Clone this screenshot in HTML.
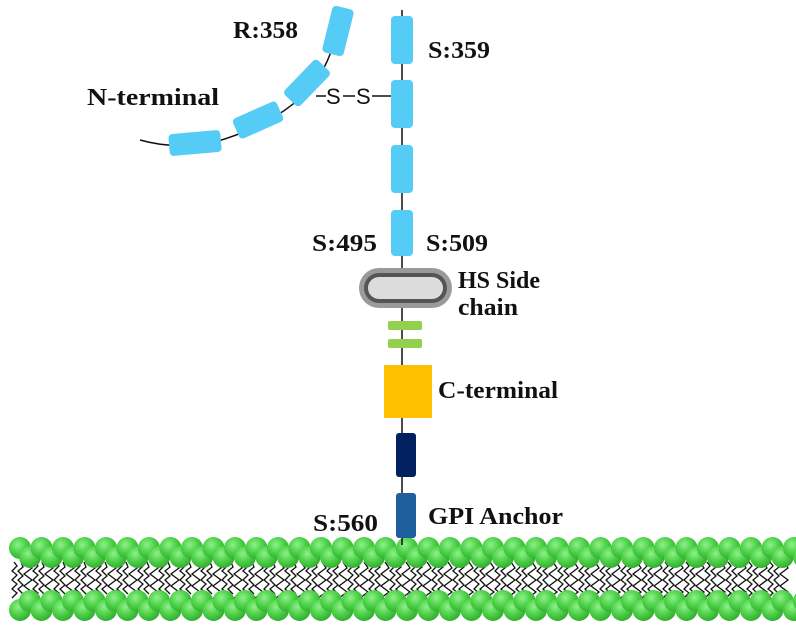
<!DOCTYPE html>
<html><head><meta charset="utf-8"><style>
html,body{margin:0;padding:0;background:#fff;}
svg{display:block;}
text{font-family:"Liberation Serif",serif;font-weight:bold;font-size:24px;fill:#111;}
</style></head><body>
<svg id="s" width="796" height="632" viewBox="0 0 796 632" xmlns="http://www.w3.org/2000/svg">
<defs>
<radialGradient id="g" cx="0.4" cy="0.35" r="0.7">
<stop offset="0" stop-color="#8ff08a"/><stop offset="0.5" stop-color="#4fd24a"/><stop offset="1" stop-color="#2fa82c"/>
</radialGradient>
</defs>
<g id="tails" stroke="#111" stroke-width="1.3" fill="none"></g>
<g id="heads"></g>
<line x1="402" y1="10" x2="402" y2="545" stroke="#111" stroke-width="1.5"/>
<path d="M140,140 Q175,150 215,142 Q290,120 320,75 Q335,50 342,10" stroke="#111" stroke-width="1.5" fill="none"/>
<g fill="#55ccf5">
<rect x="391" y="16" width="22" height="48" rx="4"/>
<rect x="391" y="80" width="22" height="48" rx="4"/>
<rect x="391" y="145" width="22" height="48" rx="4"/>
<rect x="391" y="210" width="22" height="46" rx="4"/>
<rect x="-11" y="-24" width="22" height="48" rx="4" transform="translate(338,31) rotate(14)"/>
<rect x="-11" y="-24" width="22" height="48" rx="4" transform="translate(307,83) rotate(44)"/>
<rect x="-11" y="-24" width="22" height="48" rx="4" transform="translate(258,120) rotate(66)"/>
<rect x="-11" y="-26" width="22" height="52" rx="4" transform="translate(195,143) rotate(85)"/>
</g>
<line x1="316" y1="96" x2="326" y2="96" stroke="#111" stroke-width="1.5"/>
<line x1="343" y1="96" x2="355" y2="96" stroke="#111" stroke-width="1.5"/>
<line x1="372" y1="96" x2="391" y2="96" stroke="#111" stroke-width="1.5"/>
<text x="326" y="104" style="font-family:'Liberation Sans',sans-serif;font-weight:normal;font-size:22px">S</text>
<text x="356" y="104" style="font-family:'Liberation Sans',sans-serif;font-weight:normal;font-size:22px">S</text>
<rect x="359" y="268" width="93" height="40" rx="20" fill="#9a9a9a"/>
<rect x="364" y="273" width="83" height="30" rx="15" fill="#555"/>
<rect x="368" y="277" width="75" height="22" rx="11" fill="#dcdcdc"/>
<rect x="388" y="321" width="34" height="9" rx="2" fill="#92d050"/>
<rect x="388" y="339" width="34" height="9" rx="2" fill="#92d050"/>
<rect x="384" y="365" width="48" height="53" fill="#ffc000"/>
<rect x="396" y="433" width="20" height="44" rx="3" fill="#002060"/>
<rect x="396" y="493" width="20" height="45" rx="3" fill="#1f5f9f"/>
<text x="233" y="38" textLength="65" lengthAdjust="spacingAndGlyphs">R:358</text>
<text x="428" y="58" textLength="62" lengthAdjust="spacingAndGlyphs">S:359</text>
<text x="87" y="105" textLength="132" lengthAdjust="spacingAndGlyphs">N-terminal</text>
<text x="312" y="251" textLength="65" lengthAdjust="spacingAndGlyphs">S:495</text>
<text x="426" y="251" textLength="62" lengthAdjust="spacingAndGlyphs">S:509</text>
<text x="458" y="288" textLength="82" lengthAdjust="spacingAndGlyphs">HS Side</text>
<text x="458" y="315" textLength="60" lengthAdjust="spacingAndGlyphs">chain</text>
<text x="438" y="398" textLength="120" lengthAdjust="spacingAndGlyphs">C-terminal</text>
<text x="313" y="531" textLength="65" lengthAdjust="spacingAndGlyphs">S:560</text>
<text x="428" y="524" textLength="135" lengthAdjust="spacingAndGlyphs">GPI Anchor</text>
</svg>
<script>
var ns="http://www.w3.org/2000/svg";
var H=document.getElementById('heads'),T=document.getElementById('tails');
function c(x,y){var e=document.createElementNS(ns,'circle');e.setAttribute('cx',x);e.setAttribute('cy',y);e.setAttribute('r',11);e.setAttribute('fill','url(#g)');H.appendChild(e);}
for(var x=20;x<796;x+=21.5){c(x,548);c(x+10,557);c(x,610);c(x+10,601);}
for(var x=14;x<790;x+=7){
 var p=document.createElementNS(ns,'path');var d='M'+x+',562';var y=562;var s=1;
 while(y<594){y+=4+((x*7+y)%3);d+=' L'+(x+s*(2+(x+y)%3))+','+y;s=-s;}
 p.setAttribute('d',d);T.appendChild(p);
}
</script>
</body></html>
